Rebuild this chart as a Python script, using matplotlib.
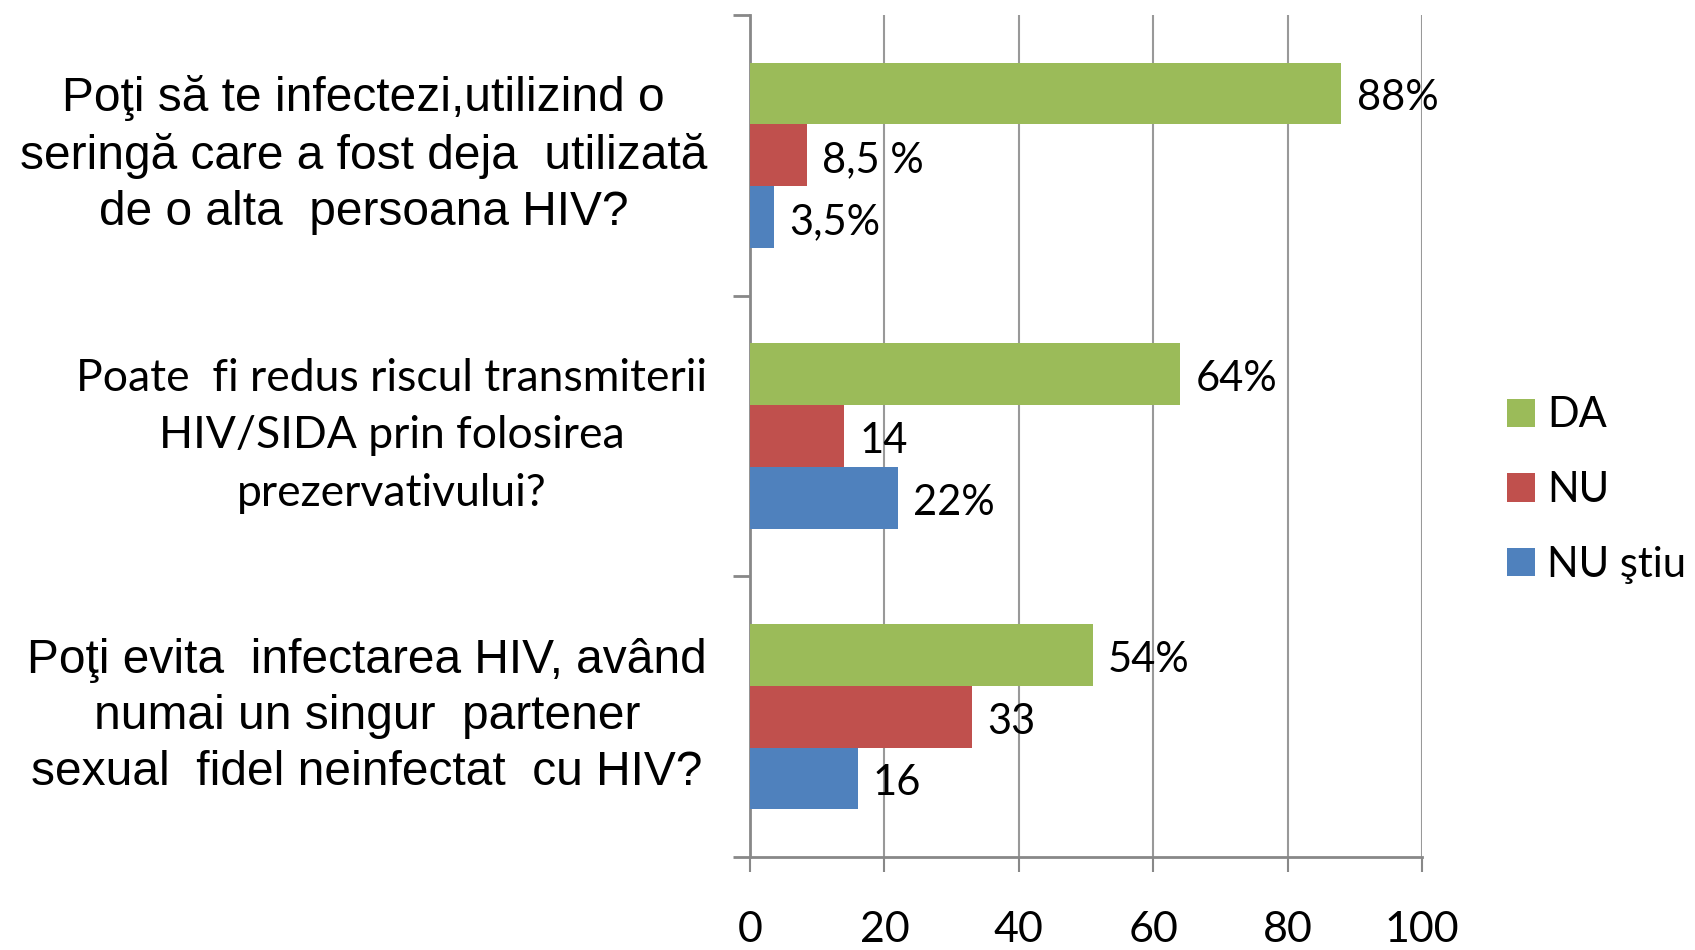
import numpy as np
import matplotlib
matplotlib.use('Agg')
import matplotlib.pyplot as plt
from matplotlib.patches import Patch

# questions (top to bottom)
questions = [
    'Poţi să te infectezi,utilizind o\nseringă care a fost deja  utilizată\nde o alta  persoana HIV?',
    'Poate  fi redus riscul transmiterii\nHIV/SIDA prin folosirea\nprezervativului?',
    'Poţi evita  infectarea HIV, având\nnumai un singur  partener\nsexual  fidel neinfectat  cu HIV?',
]
# first and last label use an Arial-like face, the middle one a Calibri-like face
question_fonts = ['Liberation Sans', 'Lato', 'Liberation Sans']
question_sizes = [34.5, 32, 34.5]
question_spacing = [1.32, 1.5, 1.32]

series = ['DA', 'NU', 'NU ştiu']
da_values = [88, 64, 51]
nu_values = [8.5, 14, 33]
nustiu_values = [3.5, 22, 16]

da_labels = ['88%', '64%', '54%']
nu_labels = ['8,5 %', '14', '33']
nustiu_labels = ['3,5%', '22%', '16']

colors = ['#9BBB59', '#C0504D', '#4F81BD']
xticks = [0, 20, 40, 60, 80, 100]

fig = plt.figure(figsize=(16.95, 9.5), dpi=100)
ax = fig.add_axes([750 / 1695, 1 - 857 / 950, 672 / 1695, 842 / 950])

y = np.arange(len(questions))
h = 0.22
all_values = [da_values, nu_values, nustiu_values]
all_labels = [da_labels, nu_labels, nustiu_labels]
for i, (vals, labs) in enumerate(zip(all_values, all_labels)):
    pos = y - h + i * h
    ax.barh(pos, vals, height=h, color=colors[i], label=series[i], zorder=3)
    for p, v, t in zip(pos, vals, labs):
        ax.annotate(t, (v, p), xytext=(11, -3.5), textcoords='offset points',
                    ha='left', va='center', fontsize=30, family='Lato')

ax.set_xlim(0, 100)
ax.set_ylim(2.5, -0.5)

# category boundaries as major ticks, labels on minor ticks
ax.set_yticks([-0.5, 0.5, 1.5, 2.5])
ax.set_yticklabels([])
ax.set_yticks(y, minor=True)
ax.set_yticklabels(questions, minor=True, multialignment='center', va='center')
for k, lab in enumerate(ax.get_yticklabels(minor=True)):
    lab.set_family(question_fonts[k])
    lab.set_fontsize(question_sizes[k])
    lab.set_linespacing(question_spacing[k])
ax.tick_params(axis='y', which='minor', length=0, pad=31)
ax.tick_params(axis='y', which='major', length=12, width=2, color='#888888')

ax.set_xticks(xticks)
ax.set_xticklabels([str(t) for t in xticks], family='Lato', fontsize=31)
ax.tick_params(axis='x', length=11, width=1.5, color='#888888', pad=28)

ax.grid(axis='x', color='#999999', linewidth=1.5, zorder=0)
for s in ['top', 'right']:
    ax.spines[s].set_visible(False)
for s in ['left', 'bottom']:
    ax.spines[s].set_color('#888888')
    ax.spines[s].set_linewidth(2)

handles = [Patch(facecolor=c) for c in colors]
fig.legend(handles, series, loc='center left', bbox_to_anchor=(1486 / 1695, 1 - 490 / 950),
           frameon=False, prop={'family': 'Lato', 'size': 30},
           handlelength=0.67, handleheight=0.67, handletextpad=0.3, labelspacing=0.88,
           borderpad=0)

fig.savefig('out.png', dpi=100)
